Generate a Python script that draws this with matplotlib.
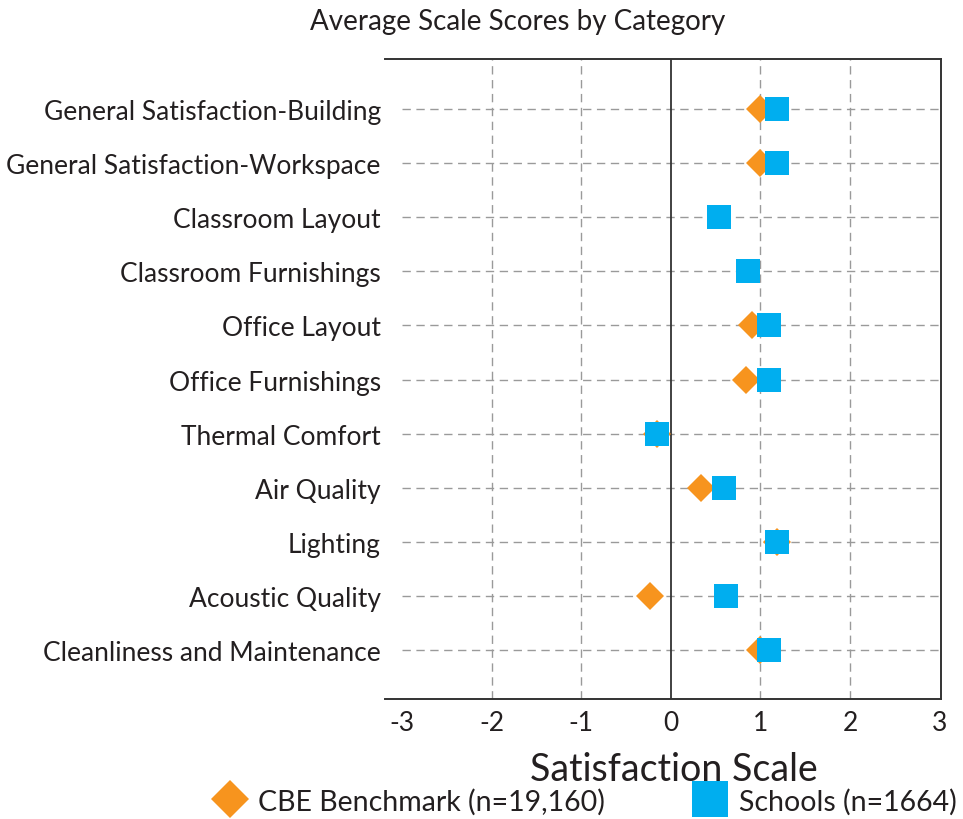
import matplotlib
matplotlib.use("Agg")
import matplotlib.pyplot as plt
from matplotlib.lines import Line2D
import numpy as np

plt.rcParams["font.family"] = ["Lato", "DejaVu Sans"]

# values
categories = [
    "General Satisfaction-Building",
    "General Satisfaction-Workspace",
    "Classroom Layout",
    "Classroom Furnishings",
    "Office Layout",
    "Office Furnishings",
    "Thermal Comfort",
    "Air Quality",
    "Lighting",
    "Acoustic Quality",
    "Cleanliness and Maintenance",
]
cbe_scores = [0.99, 1.00, np.nan, np.nan, 0.91, 0.84, -0.16, 0.34, 1.18, -0.23, 1.00]
school_scores = [1.18, 1.19, 0.54, 0.86, 1.10, 1.09, -0.16, 0.59, 1.18, 0.62, 1.09]
x_ticks = [-3, -2, -1, 0, 1, 2, 3]

orange = "#F7941E"
blue = "#00AEEF"
grid_gray = "#9A9A9A"
text_col = "#231F20"

fig = plt.figure(figsize=(9.63, 8.2), dpi=100)
ax = fig.add_axes([0.3998, 0.1463, 0.5769, 0.7805])

rows = np.arange(len(categories))

# dashed row lines and vertical grid
ax.hlines(rows, -3, 3.01, colors=grid_gray, linestyles=(0, (6, 4)), linewidth=1.0, zorder=1)
for gx in [-2, -1, 1, 2]:
    ax.axvline(gx, color=grid_gray, linestyle=(0, (6, 4)), linewidth=1.0, zorder=1)
ax.axvline(0, color="#333333", linewidth=1.3, zorder=1)

ax.plot(cbe_scores, rows, linestyle="None", marker="D", markersize=14.5,
        color=orange, markeredgewidth=0, zorder=3)
ax.plot(school_scores, rows, linestyle="None", marker="s", markersize=17.5,
        color=blue, markeredgewidth=0, zorder=4)

ax.set_xlim(-3.19, 3.01)
ax.set_ylim(len(categories) - 0.1, -0.92)
ax.set_xticks(x_ticks)
ax.set_xticklabels([str(t) for t in x_ticks])
ax.set_yticks(rows)
ax.set_yticklabels(categories)
ax.tick_params(axis="y", length=0, pad=3, labelsize=19, labelcolor=text_col)
ax.tick_params(axis="x", length=0, pad=8, labelsize=19, labelcolor=text_col)

ax.spines["left"].set_visible(False)
for side in ["top", "right", "bottom"]:
    ax.spines[side].set_color("#333333")
    ax.spines[side].set_linewidth(1.4)

ax.set_xlabel("Satisfaction Scale", fontsize=27, color=text_col, va="baseline")
ax.xaxis.set_label_coords(0.52, -0.127)
fig.text(0.537, 0.973, "Average Scale Scores by Category", ha="center", va="center",
         fontsize=20, color=text_col)

handles = [
    Line2D([0], [0], marker="D", color=orange, linestyle="None", markersize=19,
           markeredgewidth=0, label="CBE Benchmark (n=19,160)"),
    Line2D([0], [0], marker="s", color=blue, linestyle="None", markersize=26,
           markeredgewidth=0, label="Schools (n=1664)"),
]
fig.legend(handles=handles, loc="center", bbox_to_anchor=(0.607, 0.022), ncol=2,
           frameon=False, fontsize=20.5, handletextpad=0.4, columnspacing=3.1,
           borderaxespad=0, handlelength=1.2, labelcolor=text_col)

fig.savefig("out.png", dpi=100)
